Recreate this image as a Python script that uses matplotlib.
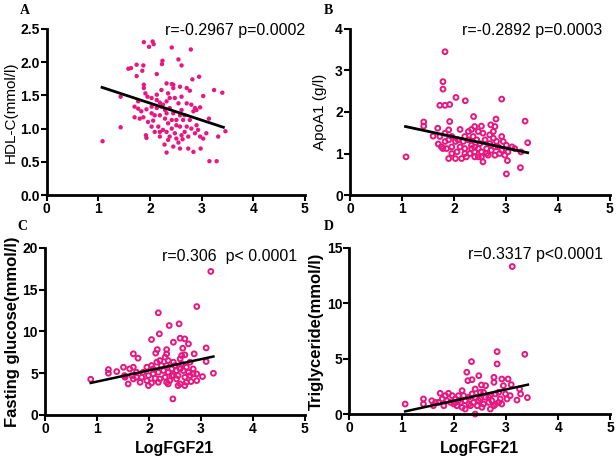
import matplotlib
matplotlib.use('Agg')
from matplotlib import pyplot as plt

plt.rcParams['font.family'] = ['Liberation Sans', 'DejaVu Sans']

PINK = '#e8177f'

# panel A: HDL-C
hdl_x = [1.08, 1.43, 1.43, 1.58, 1.63, 1.74, 1.74, 1.87, 1.85, 1.88, 1.98, 2.05, 2.07, 2.24, 2.23,
         2.42, 2.55, 2.61, 2.79, 2.82, 2.95, 2.32, 2.42, 2.45, 2.13, 1.88, 1.88, 1.91, 1.95, 2.03,
         1.70, 1.77, 1.80, 1.70, 1.87, 1.93, 1.92, 1.93, 2.03, 2.09, 2.13, 2.19, 2.25, 2.13, 2.16,
         2.19, 2.28, 2.32, 2.35, 2.45, 2.55, 2.58, 2.63, 2.74, 2.84, 2.98, 3.15, 3.29, 3.32, 3.46,
         3.14, 3.24, 3.40, 3.03, 2.71, 2.77, 2.97, 2.90, 2.84, 2.77, 2.80, 2.90, 2.93, 2.97, 3.03,
         2.87, 2.74, 2.67, 2.58, 2.51, 2.45, 2.38, 2.32, 2.48, 2.55, 2.61, 2.67, 2.35, 2.45, 2.58,
         2.29, 2.35, 2.42, 2.48, 2.25, 2.19, 2.09, 2.32, 2.38, 2.51, 2.61, 2.03, 1.96, 2.06, 2.19,
         2.29, 2.13, 2.22, 2.03, 1.83, 1.77, 2.71, 2.80, 2.87, 2.71, 2.64, 2.58, 2.42, 2.51, 3.09,
         2.32, 2.22, 2.38, 2.61]
hdl_y = [0.81, 1.02, 1.48, 1.90, 1.91, 1.96, 1.79, 1.95, 1.87, 2.30, 2.23, 2.31, 2.27, 2.02, 1.97,
         2.22, 2.04, 1.95, 2.19, 1.74, 1.78, 1.68, 1.67, 1.66, 1.82, 1.66, 1.61, 1.53, 1.48, 1.46,
         1.33, 1.30, 1.15, 1.17, 1.17, 1.29, 0.90, 0.86, 1.03, 1.20, 1.31, 1.39, 1.36, 1.43, 1.03,
         0.95, 0.76, 0.64, 0.83, 0.73, 0.79, 0.70, 0.84, 0.70, 0.65, 0.70, 0.51, 0.51, 0.88, 0.96,
         1.15, 1.58, 1.54, 1.49, 1.61, 1.57, 1.32, 1.28, 1.26, 1.13, 1.00, 1.05, 0.98, 0.88, 0.85,
         0.93, 0.88, 0.95, 1.03, 1.13, 1.23, 1.31, 1.41, 1.46, 1.38, 1.28, 1.20, 1.53, 1.61, 1.63,
         1.15, 1.08, 1.00, 0.93, 0.98, 0.88, 0.95, 0.95, 0.88, 0.85, 0.90, 1.23, 1.10, 1.12, 1.20,
         1.28, 1.51, 1.58, 1.33, 1.26, 1.41, 1.38, 1.36, 1.31, 1.03, 1.13, 1.20, 1.13, 1.05, 0.93,
         1.23, 1.33, 1.46, 1.48]
hdl_fit_x = [1.07, 3.42]
hdl_fit_y = [1.62, 1.02]

# panel B: ApoA1
apo_x = [1.08, 1.83, 1.79, 1.79, 1.73, 1.83, 1.92, 2.04, 2.22, 2.92, 1.42, 1.42, 1.69, 1.92, 2.38,
         2.81, 3.37, 3.42, 3.03, 3.01, 3.28, 3.29, 3.12, 2.92, 2.79, 2.71, 2.53, 2.40, 2.34, 2.12,
         1.90, 1.83, 1.73, 1.60, 1.70, 1.79, 1.90, 2.03, 2.15, 2.24, 2.31, 2.40, 2.53, 2.56, 2.66,
         2.79, 2.88, 2.98, 3.04, 3.17, 1.96, 2.06, 2.12, 2.03, 1.96, 2.21, 2.28, 2.37, 2.44, 2.50,
         2.60, 2.69, 2.76, 2.82, 2.85, 2.95, 3.01, 2.47, 2.34, 2.21, 2.40, 2.53, 2.63, 2.72, 2.79,
         2.69, 2.76, 2.56, 2.47, 2.28, 2.18, 2.08, 1.90, 1.83, 1.76, 1.86, 1.96, 2.21, 2.34, 2.63,
         2.92, 2.47, 2.40]
apo_y = [0.92, 3.45, 2.73, 2.55, 2.16, 2.16, 2.18, 2.35, 2.27, 2.31, 1.76, 1.66, 1.61, 1.77, 1.89,
         1.83, 1.78, 1.26, 0.83, 0.51, 0.66, 1.04, 1.16, 1.41, 1.65, 1.69, 1.66, 1.65, 1.58, 1.58,
         1.57, 1.49, 1.41, 1.42, 1.23, 1.12, 0.88, 0.88, 0.88, 0.92, 1.00, 0.92, 0.92, 0.80, 0.96,
         0.96, 1.00, 0.96, 1.04, 1.12, 1.00, 1.04, 1.16, 1.29, 1.41, 1.41, 1.33, 1.41, 1.33, 1.24,
         1.33, 1.24, 1.37, 1.29, 1.16, 1.29, 1.20, 1.12, 1.12, 1.12, 1.04, 1.04, 1.12, 1.08, 1.16,
         1.45, 1.53, 1.49, 1.53, 1.53, 1.29, 1.33, 1.33, 1.29, 1.16, 1.12, 1.16, 1.00, 1.20, 1.00,
         1.08, 0.92, 1.16]
apo_fit_x = [1.07, 3.42]
apo_fit_y = [1.65, 1.02]

# panel C: fasting glucose
glu_x = [0.88, 1.22, 1.22, 1.38, 1.51, 1.53, 1.60, 1.70, 1.70, 1.79, 1.63, 1.70, 1.76, 1.86, 1.96,
         1.99, 2.05, 2.18, 2.20, 2.39, 2.58, 2.47, 2.60, 2.69, 2.76, 2.65, 2.69, 2.87, 2.92, 3.10,
         3.10, 3.19, 3.24, 3.03, 2.92, 2.81, 2.72, 2.60, 2.46, 2.34, 2.18, 2.05, 2.13, 2.16, 2.34,
         2.34, 2.31, 2.21, 2.15, 2.05, 2.34, 2.47, 2.60, 2.63, 2.79, 2.85, 2.76, 2.66, 2.53, 2.44,
         2.37, 2.28, 2.18, 2.08, 1.99, 1.89, 1.76, 2.31, 2.44, 2.56, 2.69, 2.79, 2.92, 2.53, 2.40,
         2.21, 2.12, 1.96, 1.83, 1.67, 1.54, 2.85, 2.63, 2.72, 2.50, 2.24, 2.08, 2.47, 2.60, 2.37,
         2.56, 2.69, 2.37]
glu_y = [4.27, 5.43, 4.99, 5.19, 5.71, 4.71, 3.71, 4.31, 7.31, 6.79, 5.51, 5.71, 5.11, 4.51, 5.71,
         3.51, 9.02, 12.22, 9.70, 10.70, 10.90, 8.70, 9.18, 9.10, 8.50, 7.98, 7.19, 7.31, 12.97, 8.02,
         6.39, 17.17, 4.99, 4.59, 4.11, 3.99, 3.91, 3.71, 1.92, 3.91, 3.91, 3.83, 7.39, 7.82, 7.82,
         7.31, 6.91, 6.51, 6.31, 5.91, 5.91, 6.31, 6.71, 7.11, 6.31, 5.51, 5.11, 5.31, 5.31, 5.51,
         5.11, 5.31, 5.11, 4.91, 4.71, 5.11, 4.51, 4.51, 4.71, 4.71, 4.51, 4.71, 4.91, 4.31, 4.11,
         4.31, 4.39, 4.11, 3.91, 4.71, 4.51, 4.91, 6.11, 5.71, 5.91, 5.91, 5.51, 4.71, 5.51, 6.51,
         3.51, 3.51, 3.71]
glu_fit_x = [0.88, 3.24]
glu_fit_y = [3.83, 6.99]

# panel D: triglyceride
tg_x = [1.07, 1.42, 1.42, 1.58, 1.61, 1.71, 1.74, 1.84, 1.90, 1.97, 2.03, 1.94, 1.81, 2.06, 2.09,
        2.16, 2.22, 2.25, 2.34, 2.27, 2.35, 2.48, 2.41, 2.53, 2.51, 2.61, 2.67, 2.70, 2.77, 2.77,
        2.83, 2.83, 2.92, 3.04, 3.10, 3.12, 3.26, 3.28, 3.21, 3.36, 3.41, 2.99, 2.89, 2.80, 2.80,
        2.70, 2.57, 2.41, 2.35, 2.29, 2.22, 2.13, 2.38, 2.48, 2.57, 2.67, 2.92, 3.02, 3.08, 2.54,
        2.45, 2.32, 2.16, 2.03, 1.87, 1.78, 1.65, 2.73, 2.86, 2.95, 2.61, 2.51, 2.29, 2.19, 2.09,
        2.00, 2.41, 2.77, 2.86]
tg_y = [0.90, 1.36, 0.90, 1.20, 0.75, 1.05, 1.87, 1.66, 1.87, 1.66, 1.36, 1.05, 0.75, 0.75, 1.66,
        2.11, 0.45, 3.77, 4.73, 3.01, 3.10, 3.46, 0.00, 2.62, 1.96, 1.51, 1.05, 0.45, 3.31, 2.86,
        5.63, 4.52, 3.16, 3.16, 2.65, 13.31, 2.26, 1.81, 1.26, 5.39, 1.48, 1.81, 1.36, 1.81, 0.90,
        1.66, 1.96, 2.26, 1.81, 1.51, 1.20, 1.05, 1.05, 1.20, 0.90, 1.51, 0.90, 1.36, 1.66, 0.60,
        0.75, 0.75, 0.60, 1.05, 1.20, 1.36, 1.05, 1.20, 1.96, 2.56, 2.56, 1.36, 0.90, 1.66, 1.20,
        0.90, 1.51, 0.75, 1.05]
tg_fit_x = [1.07, 3.42]
tg_fit_y = [0.24, 2.65]


def style_axes(ax, ymax, yticks, yfmt):
    ax.set_xlim(0, 5)
    ax.set_ylim(0, ymax)
    ax.set_xticks(range(6))
    ax.set_yticks(yticks)
    ax.set_yticklabels([yfmt.format(t) for t in yticks], fontweight='bold', fontsize=10)
    ax.set_xticklabels([str(t) for t in range(6)], fontweight='bold', fontsize=10)
    for side in ['top', 'right']:
        ax.spines[side].set_visible(False)
    for side in ['left', 'bottom']:
        ax.spines[side].set_linewidth(2)
    ax.tick_params(direction='out', length=4, width=1.5, pad=1)


fig = plt.figure(figsize=(6.16, 4.58), dpi=100)

axA = fig.add_axes([0.076, 0.574, 0.419, 0.363])
axA.scatter(hdl_x, hdl_y, s=10, color=PINK, edgecolors='none', clip_on=False)
axA.plot(hdl_fit_x, hdl_fit_y, color='black', lw=2)
style_axes(axA, 2.5, [0.0, 0.5, 1.0, 1.5, 2.0, 2.5], '{:.1f}')
axA.set_ylabel('HDL-C(mmol/l)', fontsize=11, labelpad=2)
axA.text(1.0, 0.99, 'r=-0.2967 p=0.0002', transform=axA.transAxes, ha='right', va='center', fontsize=11.5)

axB = fig.add_axes([0.568, 0.574, 0.422, 0.363])
axB.scatter(apo_x, apo_y, s=12, facecolors='none', edgecolors=PINK, linewidths=1.4, clip_on=False)
axB.plot(apo_fit_x, apo_fit_y, color='black', lw=2)
style_axes(axB, 4, [0, 1, 2, 3, 4], '{:d}')
axB.set_ylabel('ApoA1 (g/l)', fontsize=11, labelpad=6)
axB.text(0.97, 0.99, 'r=-0.2892 p=0.0003', transform=axB.transAxes, ha='right', va='center', fontsize=11.5)

axC = fig.add_axes([0.073, 0.094, 0.422, 0.365])
axC.scatter(glu_x, glu_y, s=12, facecolors='none', edgecolors=PINK, linewidths=1.4, clip_on=False)
axC.plot(glu_fit_x, glu_fit_y, color='black', lw=1.8)
style_axes(axC, 20, [0, 5, 10, 15, 20], '{:d}')
axC.set_ylabel('Fasting glucose(mmol/l)', fontsize=12, fontweight='bold', labelpad=2)
axC.set_xlabel('LogFGF21', fontsize=11.5, fontweight='bold', labelpad=4)
axC.text(0.97, 0.95, 'r=0.306  p< 0.0001', transform=axC.transAxes, ha='right', va='center', fontsize=11.5)

axD = fig.add_axes([0.567, 0.096, 0.424, 0.363])
axD.scatter(tg_x, tg_y, s=12, facecolors='none', edgecolors=PINK, linewidths=1.4, clip_on=False)
axD.plot(tg_fit_x, tg_fit_y, color='black', lw=1.8)
style_axes(axD, 15, [0, 5, 10, 15], '{:d}')
axD.set_ylabel('Triglyceride(mmol/l)', fontsize=12, fontweight='bold', labelpad=2)
axD.set_xlabel('LogFGF21', fontsize=11.5, fontweight='bold', labelpad=4)
axD.text(0.97, 0.96, 'r=0.3317 p<0.0001', transform=axD.transAxes, ha='right', va='center', fontsize=11.5)

for letter, x, y in [('A', 0.040, 0.978), ('B', 0.533, 0.978), ('C', 0.036, 0.505), ('D', 0.533, 0.505)]:
    fig.text(x, y, letter, fontsize=10, fontweight='bold', family='Liberation Serif', ha='center', va='center')

fig.savefig('out.png', dpi=100)
